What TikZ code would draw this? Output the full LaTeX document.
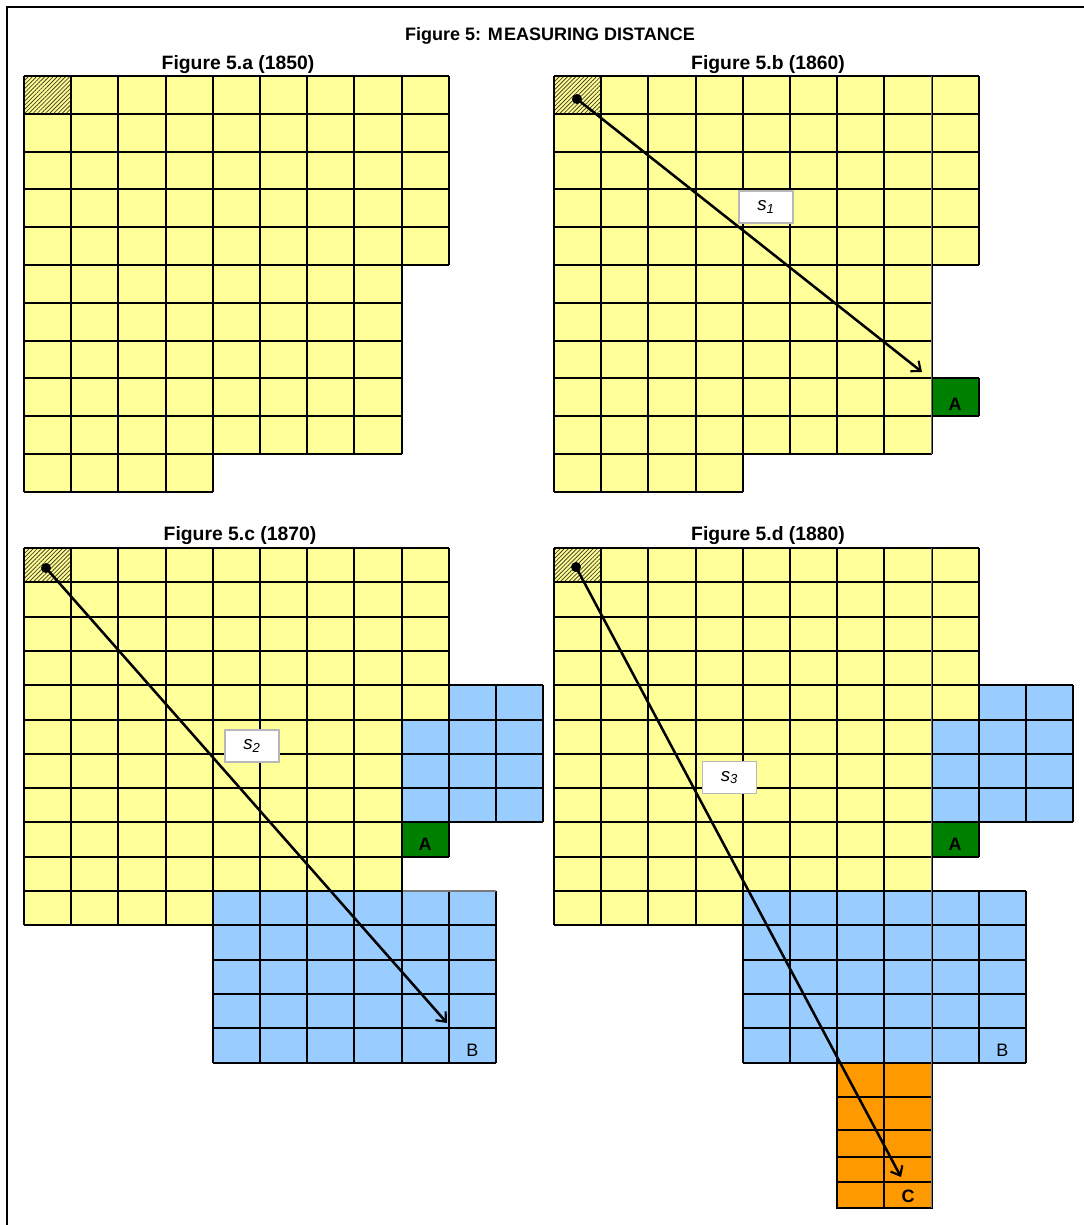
\documentclass[tikz,border=0pt]{standalone}
\usepackage{fontspec}
\setmainfont{Liberation Sans}
\usetikzlibrary{patterns.meta,arrows.meta}
\definecolor{cellyellow}{HTML}{FFFF99}
\definecolor{cellblue}{HTML}{99CCFF}
\definecolor{cellgreen}{HTML}{008000}
\definecolor{cellorange}{HTML}{FF9900}
\definecolor{hatchcol}{HTML}{4A4420}
\definecolor{seamgrey}{HTML}{7A7A7A}
\definecolor{labelborder}{HTML}{B8B8B8}
\tikzset{
  gridline/.style={line width=1.5pt, draw=black},
  seam/.style={line width=1.2pt, draw=seamgrey},
  hatchcell/.style={pattern={Lines[angle=45,distance=2.2pt,line width=0.6pt]}, pattern color=hatchcol},
  cellmark/.style={font=\fontsize{13.5}{13.5}\selectfont, anchor=base, yshift=4.5pt, inner sep=0pt},
  boldmark/.style={cellmark, font=\fontsize{13.5}{13.5}\selectfont\bfseries},
  subtitle/.style={font=\fontsize{14.5}{14.5}\selectfont\bfseries, anchor=base, inner sep=0pt},
  maintitle/.style={font=\fontsize{13.5}{13.5}\selectfont\bfseries, anchor=base, inner sep=0pt},
  distlabel/.style={draw=labelborder, line width=0.9pt, fill=white, minimum width=40.5pt, minimum height=24pt, inner sep=0pt, font=\fontsize{14}{14}\selectfont\itshape},
  distarrow/.style={line width=1.9pt, -{Straight Barb[length=6pt,width=10pt,line width=1.6pt]}},
  startdot/.style={circle, fill=black, inner sep=0pt, minimum size=7.5pt},
}
% grid of cells: columns #1..#3, rows #2..#4 (rows counted downwards)
\newcommand{\cellgrid}[4]{%
  \draw[gridline] \foreach \i in {#1,...,#3} {(\i,-#2) -- (\i,-#4)}
                  \foreach \j in {#2,...,#4} {(#1,-\j) -- (#3,-\j)};%
}
\begin{document}
\begin{tikzpicture}[x=0.75pt,y=-0.75pt]
\useasboundingbox (0,0) rectangle (1083,1225);
\draw[line width=1.5pt] (7,1226) -- (7,7) -- (1084,7);

\node[maintitle] (title) at (550,40) {Figure 5: M\kern1pt EASURING DISTANCE};
\node[subtitle] (ta) at (238,69) {Figure 5.a (1850)};
\node[subtitle] (tb) at (768,69) {Figure 5.b (1860)};
\node[subtitle] (tc) at (240,540) {Figure 5.c (1870)};
\node[subtitle] (td) at (768,540) {Figure 5.d (1880)};

% ---------- Figure 5.a ----------
\begin{scope}[shift={(18pt,-57pt)}, x=35.4pt, y=28.35pt]
  \fill[cellyellow] (0,0) rectangle (9,-5) (0,-5) rectangle (8,-10) (0,-10) rectangle (4,-11);
  \fill[hatchcell] (0,0) rectangle (1,-1);
  \cellgrid{0}{0}{9}{5}
  \cellgrid{0}{5}{8}{10}
  \cellgrid{0}{10}{4}{11}
\end{scope}

% ---------- Figure 5.b ----------
\begin{scope}[shift={(415.5pt,-57pt)}, x=35.4pt, y=28.35pt]
  \fill[cellyellow] (0,0) rectangle (9,-5) (0,-5) rectangle (8,-10) (0,-10) rectangle (4,-11);
  \fill[cellgreen] (8,-8) rectangle (9,-9);
  \fill[hatchcell] (0,0) rectangle (1,-1);
  \cellgrid{0}{0}{9}{5}
  \cellgrid{0}{5}{8}{10}
  \cellgrid{0}{10}{4}{11}
  \cellgrid{8}{8}{9}{9}
  \draw[seam] (8,0) -- (8,-10);
  \node[boldmark] (amark-b) at (8.5,-9) {A};
\end{scope}

% ---------- Figure 5.c ----------
\begin{scope}[shift={(18pt,-411pt)}, x=35.4pt, y=25.725pt]
  \fill[cellyellow] (0,0) rectangle (9,-5) (0,-5) rectangle (8,-10) (0,-10) rectangle (4,-11);
  \fill[cellblue] (9,-4) rectangle (11,-5) (8,-5) rectangle (11,-8) (4,-10) rectangle (10,-15);
  \fill[cellgreen] (8,-8) rectangle (9,-9);
  \fill[hatchcell] (0,0) rectangle (1,-1);
  \cellgrid{0}{0}{9}{5}
  \cellgrid{0}{5}{8}{10}
  \cellgrid{0}{10}{4}{11}
  \cellgrid{9}{4}{11}{5}
  \cellgrid{8}{5}{11}{8}
  \cellgrid{4}{10}{10}{15}
  \cellgrid{8}{8}{9}{9}
  \draw[seam] (8.03,-10) -- (10,-10);
  \node[boldmark] (amark-c) at (8.5,-9) {A};
  \node[cellmark] (bmark-c) at (9.5,-15) {B};
\end{scope}

% ---------- Figure 5.d ----------
\begin{scope}[shift={(415.5pt,-411pt)}, x=35.4pt, y=25.725pt]
  \fill[cellyellow] (0,0) rectangle (9,-5) (0,-5) rectangle (8,-10) (0,-10) rectangle (4,-11);
  \fill[cellblue] (9,-4) rectangle (11,-5) (8,-5) rectangle (11,-8) (4,-10) rectangle (10,-15);
  \fill[cellgreen] (8,-8) rectangle (9,-9);
  \fill[cellorange] (6,-15) rectangle (8,-19.25);
  \fill[hatchcell] (0,0) rectangle (1,-1);
  \cellgrid{0}{0}{9}{5}
  \cellgrid{0}{5}{8}{10}
  \cellgrid{0}{10}{4}{11}
  \cellgrid{9}{4}{11}{5}
  \cellgrid{8}{5}{11}{8}
  \cellgrid{4}{10}{10}{15}
  \cellgrid{8}{8}{9}{9}
  \draw[gridline] (6,-15) rectangle (8,-19.25);
  \draw[gridline] (7,-15) -- (7,-19.25)
    (6,-16) -- (8,-16) (6,-16.97) -- (8,-16.97) (6,-17.75) -- (8,-17.75) (6,-18.49) -- (8,-18.49);
  \draw[seam] (8,0) -- (8,-19.25);
  \node[boldmark] (amark-d) at (8.5,-9) {A};
  \node[cellmark] (bmark-d) at (9.5,-15) {B};
  \node[boldmark] (cmark-d) at (7.5,-19.25) {C};
\end{scope}

% ---------- distance arrows ----------
\node[startdot] (bstart) at (577,99) {};
\coordinate (bend) at (922,372);
\draw[distarrow] (bstart.center) -- (bend);
\node[distlabel] (s1) at (766,207) {s\textsubscript{1}};

\node[startdot] (cstart) at (46,568) {};
\coordinate (cend) at (447,1023);
\draw[distarrow] (cstart.center) -- (cend);
\node[distlabel] (s2) at (252,746) {s\textsubscript{2}};

\node[startdot] (dstart) at (576,567) {};
\coordinate (dend) at (901,1177);
\draw[distarrow] (dstart.center) -- (dend);
\node[distlabel] (s3) at (729.5,777.5) {s\textsubscript{3}};
\end{tikzpicture}
\end{document}
